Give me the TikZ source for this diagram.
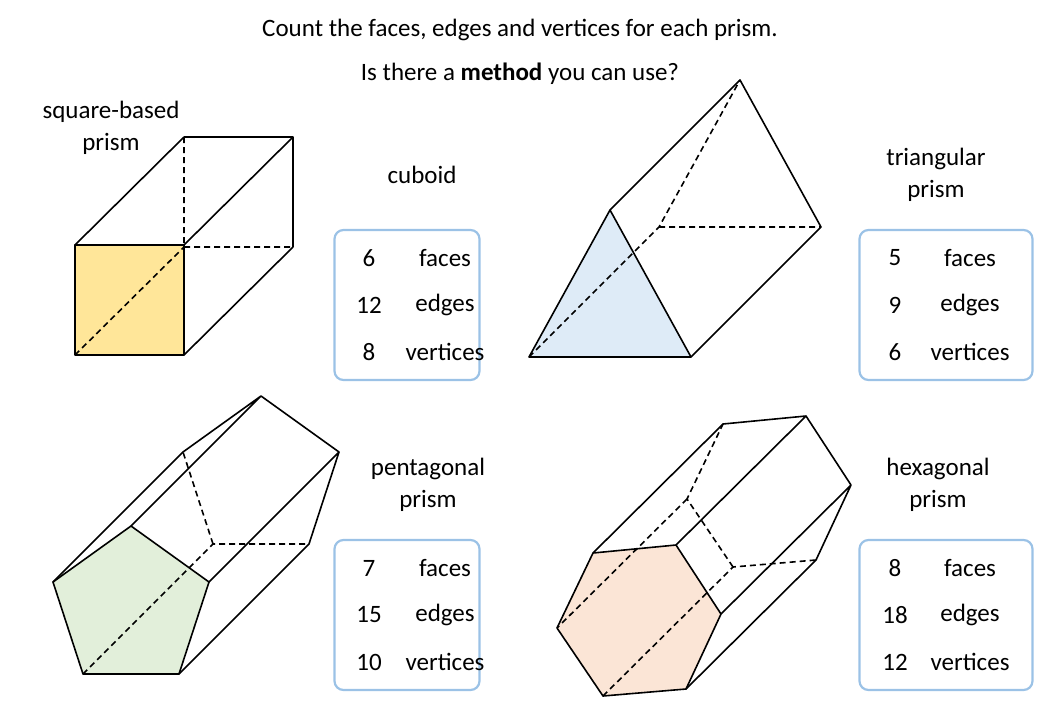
\documentclass[tikz,border=0pt]{standalone}
\usepackage{fontspec}
\setmainfont{Carlito}
\definecolor{cyel}{RGB}{255,230,153}
\definecolor{cblu}{RGB}{222,235,247}
\definecolor{cgrn}{RGB}{226,239,218}
\definecolor{corg}{RGB}{251,229,214}
\definecolor{cbox}{RGB}{155,194,230}
\begin{document}
\begin{tikzpicture}[x=1pt,y=-1pt,line width=1.6pt,line join=round,
  dsh/.style={dashed,dash pattern=on 6pt off 4pt},
  lbl/.style={font=\fontsize{25}{32}\selectfont,align=center,inner sep=0pt},
  infobox/.style={draw=cbox,line width=2.2pt,rounded corners=9pt,minimum height=150pt}]
\useasboundingbox (0,0) rectangle (1040,720);
\node[lbl] (t1) at (520,30) {Count the faces, edges and vertices for each prism.};
\node[lbl] (t2) at (520,74) {Is there a \textbf{method} you can use?};
% cube
\fill[cyel] (75,245) rectangle (184,355);
\draw (75,245) rectangle (184,355);
\draw (184,137) -- (293,137) -- (293,247) (75,245) -- (184,137) (184,245) -- (293,137) (184,355) -- (293,247);
\draw[dsh] (184,137) -- (184,247) -- (293,247) (75,355) -- (184,247);
\node[lbl] (l1) at (111,128) {square-based\\prism};
\node[lbl] (l2) at (422,175) {cuboid};
% triangle
\fill[cblu] (529,357) -- (691,357) -- (610,210) -- cycle;
\draw (529,357) -- (691,357) -- (610,210) -- cycle;
\draw (610,210) -- (740,80) -- (821,227) -- (691,357);
\draw[dsh] (529,357) -- (659,227) -- (740,80) (659,227) -- (821,227);
\node[lbl] (l3) at (936,175) {triangular\\prism};
% pentagon
\fill[cgrn] (53,582) -- (131,526) -- (209,582) -- (179,674) -- (83,674) -- cycle;
\draw (53,582) -- (131,526) -- (209,582) -- (179,674) -- (83,674) -- cycle;
\draw (53,582) -- (183,452) -- (261,396) -- (339,452) -- (309,544) -- (179,674)
      (131,526) -- (261,396) (209,582) -- (339,452);
\draw[dsh] (83,674) -- (213,544) -- (309,544) (213,544) -- (183,452);
\node[lbl] (l4) at (428,485) {pentagonal\\prism};
% hexagon
\fill[corg] (593,553) -- (676,545) -- (721,614) -- (686,689) -- (603,696) -- (557,628) -- cycle;
\draw (593,553) -- (676,545) -- (721,614) -- (686,689) -- (603,696) -- (557,628) -- cycle;
\draw (593,553) -- (723,424) -- (806,416) -- (851,485) -- (816,560) -- (686,689)
      (676,545) -- (806,416) (721,614) -- (851,485);
\draw[dsh] (603,696) -- (733,567) -- (816,560) (733,567) -- (687,499) -- (723,424) (687,499) -- (557,628);
\node[lbl] (l5) at (938,485) {hexagonal\\prism};
% boxes
\foreach \n/\x/\y/\w/\nx/\wx/\a/\b/\c in {b1/407/305/145/369/445/6/12/8, b2/946/305/173/895/970/5/9/6, b3/407/615/145/369/445/7/15/10, b4/946/615/173/895/970/8/18/12}{
  \node[infobox,minimum width=\w pt] (\n) at (\x,\y) {};
  \node[lbl] (\n a) at (\nx,\y-47) {\a};
  \node[lbl] (\n b) at (\nx,\y) {\b};
  \node[lbl] (\n c) at (\nx,\y+47) {\c};
  \node[lbl] (\n d) at (\wx,\y-47) {faces};
  \node[lbl] (\n e) at (\wx,\y) {edges};
  \node[lbl] (\n f) at (\wx,\y+47) {vertices};
}
\end{tikzpicture}
\end{document}
